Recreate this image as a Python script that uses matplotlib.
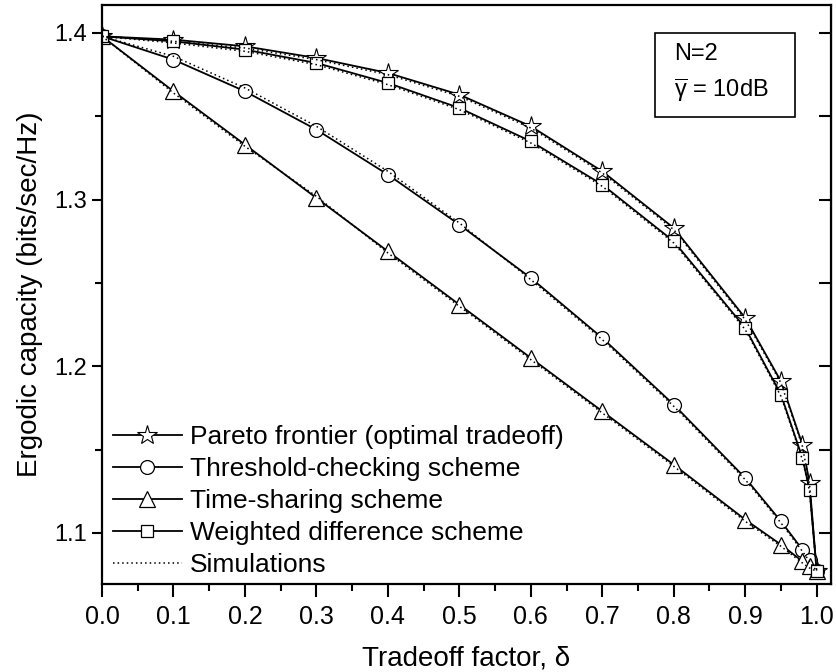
import matplotlib.pyplot as plt
from matplotlib.ticker import MultipleLocator
from matplotlib.patches import Rectangle

plt.rcParams['font.family'] = ['Liberation Sans', 'DejaVu Sans']
plt.rcParams['mathtext.fontset'] = 'custom'
plt.rcParams['mathtext.rm'] = 'Liberation Sans'
plt.rcParams['mathtext.it'] = 'Liberation Sans:italic'

# Tradeoff factor
delta = [0.0, 0.1, 0.2, 0.3, 0.4, 0.5, 0.6, 0.7, 0.8, 0.9, 0.95, 0.98, 0.99, 1.0]

# Analytical curves
pareto = [1.398, 1.396, 1.392, 1.385, 1.376, 1.363, 1.344, 1.317, 1.283, 1.229, 1.191, 1.153, 1.130, 1.077]
threshold = [1.398, 1.384, 1.365, 1.342, 1.315, 1.285, 1.253, 1.217, 1.177, 1.133, 1.107, 1.090, 1.084, 1.077]
timeshare = [1.398, 1.365, 1.333, 1.301, 1.269, 1.237, 1.205, 1.173, 1.141, 1.108, 1.093, 1.083, 1.080, 1.077]
weighted = [1.398, 1.395, 1.390, 1.382, 1.370, 1.355, 1.335, 1.309, 1.275, 1.223, 1.183, 1.145, 1.126, 1.077]

# Simulation results
pareto_sim = [1.398, 1.395, 1.391, 1.384, 1.375, 1.362, 1.343, 1.316, 1.282, 1.228, 1.190, 1.152, 1.129, 1.077]
threshold_sim = [1.398, 1.386, 1.367, 1.344, 1.317, 1.286, 1.252, 1.216, 1.176, 1.132, 1.106, 1.089, 1.083, 1.077]
timeshare_sim = [1.398, 1.364, 1.332, 1.302, 1.268, 1.236, 1.204, 1.172, 1.140, 1.107, 1.092, 1.082, 1.079, 1.077]
weighted_sim = [1.398, 1.394, 1.389, 1.381, 1.369, 1.354, 1.334, 1.308, 1.274, 1.222, 1.182, 1.144, 1.125, 1.077]

fig = plt.figure(figsize=(8.36, 6.72), dpi=100)
ax = fig.add_axes([0.122, 0.131, 0.872, 0.8616])

ax.plot(delta, pareto, color='black', lw=1.3, marker='*', ms=15, mfc='white', mec='black', mew=0.8,
        label='Pareto frontier (optimal tradeoff)')
ax.plot(delta, threshold, color='black', lw=1.3, marker='o', ms=10, mfc='white', mec='black', mew=0.9,
        label='Threshold-checking scheme')
ax.plot(delta, timeshare, color='black', lw=1.3, marker='^', ms=12, mfc='white', mec='black', mew=0.9,
        label='Time-sharing scheme')
ax.plot(delta, weighted, color='black', lw=1.3, marker='s', ms=9, mfc='white', mec='black', mew=0.9,
        label='Weighted difference scheme')

for sim in [pareto_sim, threshold_sim, timeshare_sim, weighted_sim]:
    ax.plot(delta, sim, color='black', lw=1.1, ls=(0, (1, 2)))
ax.plot([], [], color='black', lw=1.1, ls=(0, (1, 2)), label='Simulations')

ax.set_xlim(0, 1.02)
ax.set_ylim(1.0694, 1.4168)
ax.xaxis.set_major_locator(MultipleLocator(0.1))
ax.xaxis.set_minor_locator(MultipleLocator(0.05))
ax.yaxis.set_major_locator(MultipleLocator(0.1))
ax.yaxis.set_minor_locator(MultipleLocator(0.05))

ax.tick_params(which='both', direction='out', width=1.5)
ax.tick_params(axis='y', which='major', length=7, pad=4, labelsize=17)
ax.tick_params(axis='x', which='major', length=9, pad=6, labelsize=18)
ax.tick_params(which='minor', length=5)
for s in ax.spines.values():
    s.set_linewidth(1.6)

# right-hand inward ticks
ay = ax.secondary_yaxis('right')
ay.yaxis.set_major_locator(MultipleLocator(0.1))
ay.yaxis.set_minor_locator(MultipleLocator(0.05))
ay.tick_params(which='both', direction='in', labelright=False, width=1.5, length=9)

ax.set_xlabel('Tradeoff factor, \u03b4', fontsize=20, labelpad=12)
ax.set_ylabel('Ergodic capacity (bits/sec/Hz)', fontsize=20, labelpad=8)

# annotation box
ax.add_patch(Rectangle((0.7586, 0.8066), 0.192, 0.145, transform=ax.transAxes,
                       fc='white', ec='black', lw=1.2, zorder=5))
ax.text(0.785, 0.915, 'N=2', transform=ax.transAxes, fontsize=17, va='center', ha='left', zorder=6)
ax.text(0.785, 0.853, r'$\overline{\mathrm{\gamma}}$ = 10dB', transform=ax.transAxes,
        fontsize=17, va='center', ha='left', zorder=6)

ax.legend(loc='lower left', bbox_to_anchor=(-0.01, -0.02), frameon=False, fontsize=19,
          handlelength=2.6, handletextpad=0.3, labelspacing=0.3, borderaxespad=0.3)

fig.savefig('out.png', dpi=100)
